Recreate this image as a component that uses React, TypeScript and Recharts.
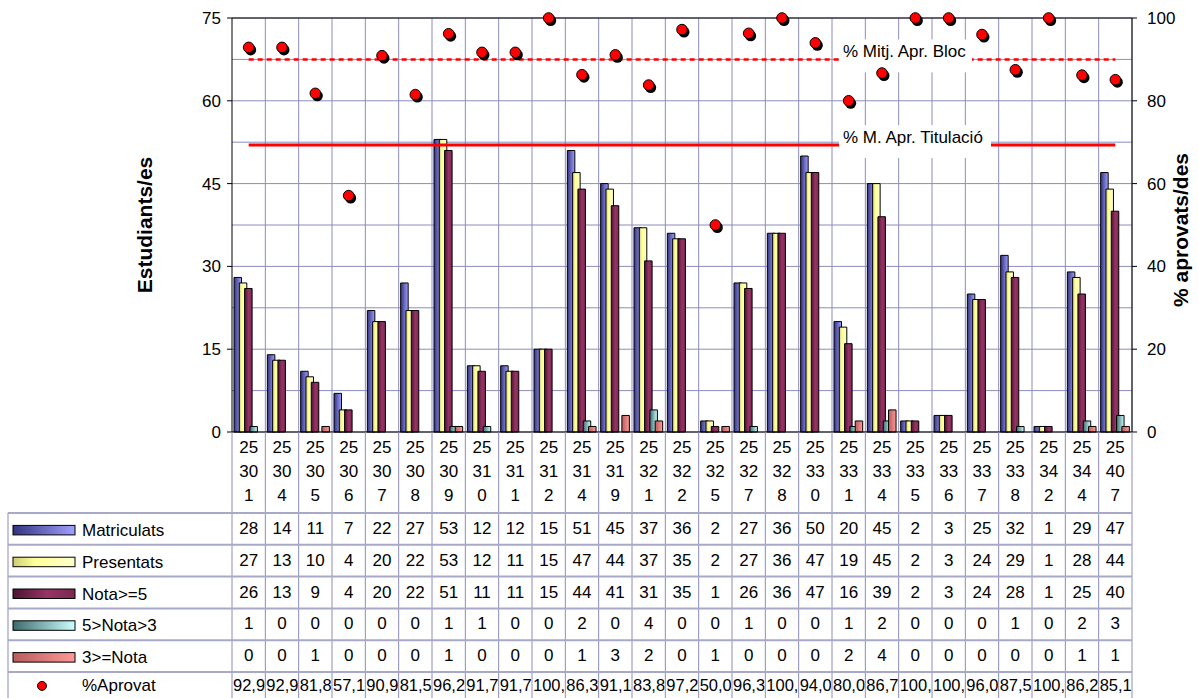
import React from 'react';
import { ComposedChart, Bar, Line, XAxis, YAxis, CartesianGrid, ReferenceLine } from 'recharts';

const categories = [
  '25301', '25304', '25305', '25306', '25307', '25308', '25309', '25310', '25311',
  '25312', '25314', '25319', '25321', '25322', '25325', '25327', '25328', '25330',
  '25331', '25334', '25335', '25336', '25337', '25338', '25342', '25344', '25407',
];
const matriculats = [28, 14, 11, 7, 22, 27, 53, 12, 12, 15, 51, 45, 37, 36, 2, 27, 36, 50, 20, 45, 2, 3, 25, 32, 1, 29, 47];
const presentats = [27, 13, 10, 4, 20, 22, 53, 12, 11, 15, 47, 44, 37, 35, 2, 27, 36, 47, 19, 45, 2, 3, 24, 29, 1, 28, 44];
const aprovats = [26, 13, 9, 4, 20, 22, 51, 11, 11, 15, 44, 41, 31, 35, 1, 26, 36, 47, 16, 39, 2, 3, 24, 28, 1, 25, 40];
const notaMitja = [1, 0, 0, 0, 0, 0, 1, 1, 0, 0, 2, 0, 4, 0, 0, 1, 0, 0, 1, 2, 0, 0, 0, 1, 0, 2, 3];
const notaBaixa = [0, 0, 1, 0, 0, 0, 1, 0, 0, 0, 1, 3, 2, 0, 1, 0, 0, 0, 2, 4, 0, 0, 0, 0, 0, 1, 1];
const pctAprovat = [92.9, 92.9, 81.8, 57.1, 90.9, 81.5, 96.2, 91.7, 91.7, 100, 86.3, 91.1, 83.8, 97.2, 50.0, 96.3, 100, 94.0, 80.0, 86.7, 100, 100, 96.0, 87.5, 100, 86.2, 85.1];

const mitjBloc = 90;
const mitjTitulacio = 69.3;

const leftTicks = [0, 15, 30, 45, 60, 75];
const rightTicks = [0, 20, 40, 60, 80, 100];
const gridLines = [0, 7.5, 15, 22.5, 30, 37.5, 45, 52.5, 60, 67.5, 75];

const seriesNames = ['Matriculats', 'Presentats', 'Nota>=5', '5>Nota>3', '3>=Nota', '%Aprovat'];
const seriesFills = ['url(#gMat)', 'url(#gPres)', 'url(#gNota)', 'url(#gMid)', 'url(#gLow)'];

const data = categories.map((cat, i) => ({
  cat,
  mat: matriculats[i],
  pres: presentats[i],
  ok: aprovats[i],
  mid: notaMitja[i],
  low: notaBaixa[i],
  pct: pctAprovat[i],
}));

// layout
const W = 1198;
const H = 698;
const PLOT_LEFT = 232;
const PLOT_RIGHT = 1132;
const PLOT_TOP = 18;
const PLOT_BOTTOM = 432;
const BAND = (PLOT_RIGHT - PLOT_LEFT) / categories.length;
const ROW_Y0 = 513;
const ROW_H = 31.8;
const LABEL_X = 839;

const FONT = '"Liberation Sans", Arial, sans-serif';
const GRID = '#8C8CBC';
const ROWLINE = '#A8A8C8';

// excel cuts the % cell to what fits in the column
const pctText = (v: number) => v.toFixed(1).replace('.', ',').slice(0, 4);

function TableTick(props: any) {
  const { x, payload } = props;
  const i = categories.indexOf(payload.value);
  if (i < 0) return null;
  const left = x - BAND / 2;
  const code = categories[i];
  const vals = [matriculats[i], presentats[i], aprovats[i], notaMitja[i], notaBaixa[i]];
  const pctY = ROW_Y0 + ROW_H * 5;
  return (
    <g fontFamily={FONT} fontSize={17} fill="#000">
      <line x1={left} x2={left} y1={PLOT_BOTTOM} y2={H} stroke={GRID} />
      {i === categories.length - 1 && (
        <line x1={left + BAND} x2={left + BAND} y1={PLOT_BOTTOM} y2={H} stroke={GRID} />
      )}
      {[code.slice(0, 2), code.slice(2, 4), code.slice(4)].map((s, k) => (
        <text key={k} x={x} y={453 + k * 23.8} textAnchor="middle">{s}</text>
      ))}
      {vals.map((v, r) => (
        <text key={r} x={x} y={ROW_Y0 + ROW_H * r + ROW_H / 2 + 5} textAnchor="middle">{v}</text>
      ))}
      <clipPath id={`pc${i}`}>
        <rect x={left + 0.5} y={pctY} width={BAND - 1} height={ROW_H} />
      </clipPath>
      <text x={left + 1} y={pctY + ROW_H / 2 + 3} fontSize={16.5} clipPath={`url(#pc${i})`}>
        {pctText(pctAprovat[i])}
      </text>
    </g>
  );
}

function renderDot(props: any) {
  const { cx, cy, index } = props;
  if (cx == null || cy == null) return <g key={index} />;
  return (
    <g key={index}>
      <circle cx={cx + 2} cy={cy + 2.5} r={5.5} fill="#000" />
      <circle cx={cx} cy={cy} r={5.3} fill="#FF0000" stroke="#000" strokeWidth={1} />
    </g>
  );
}

const boxLabel = (text: string, w: number) => (props: any) => {
  const vb = props.viewBox || {};
  const y = vb.y ?? 0;
  return (
    <g>
      <rect x={LABEL_X} y={y - 20} width={w} height={33} fill="#fff" />
      <text x={LABEL_X + 4} y={y - 2} fontFamily={FONT} fontSize={17} fill="#000">{text}</text>
    </g>
  );
};

function TableFrame() {
  return (
    <svg
      width={W}
      height={H}
      style={{ position: 'absolute', left: 0, top: 0, pointerEvents: 'none' }}
      fontFamily={FONT}
      fontSize={17}
    >
      <defs>
        <linearGradient id="gMat" x1="0" y1="0" x2="1" y2="0">
          <stop offset="0%" stopColor="#333380" />
          <stop offset="100%" stopColor="#A0A0FF" />
        </linearGradient>
        <linearGradient id="gPres" x1="0" y1="0" x2="1" y2="0">
          <stop offset="0%" stopColor="#CCCC77" />
          <stop offset="35%" stopColor="#FFFF99" />
          <stop offset="100%" stopColor="#FFFFCC" />
        </linearGradient>
        <linearGradient id="gNota" x1="0" y1="0" x2="1" y2="0">
          <stop offset="0%" stopColor="#4A1530" />
          <stop offset="55%" stopColor="#993366" />
          <stop offset="100%" stopColor="#7A2850" />
        </linearGradient>
        <linearGradient id="gMid" x1="0" y1="0" x2="1" y2="0">
          <stop offset="0%" stopColor="#3D6B6B" />
          <stop offset="100%" stopColor="#CCFFFF" />
        </linearGradient>
        <linearGradient id="gLow" x1="0" y1="0" x2="1" y2="0">
          <stop offset="0%" stopColor="#B85C5C" />
          <stop offset="100%" stopColor="#FF9999" />
        </linearGradient>
      </defs>
      <line x1={8} x2={8} y1={ROW_Y0} y2={H} stroke={GRID} />
      {seriesNames.map((_, r) => (
        <line
          key={r}
          x1={8}
          x2={PLOT_RIGHT}
          y1={ROW_Y0 + ROW_H * r}
          y2={ROW_Y0 + ROW_H * r}
          stroke={ROWLINE}
          strokeWidth={2}
        />
      ))}
      {seriesNames.map((name, r) => {
        const cy = ROW_Y0 + ROW_H * r + ROW_H / 2;
        return (
          <g key={name}>
            {r < 5 ? (
              <rect x={13} y={cy - 3.5} width={62} height={9.5} fill={seriesFills[r]} stroke="#000" strokeWidth={1} />
            ) : (
              <circle cx={42} cy={cy - 2} r={4.5} fill="#FF0000" stroke="#000" strokeWidth={1} />
            )}
            <text x={82} y={cy + (r < 5 ? 7 : 3)} fill="#000">{name}</text>
          </g>
        );
      })}
      <text
        transform="translate(152,225) rotate(-90)"
        textAnchor="middle"
        fontWeight="bold"
        fontSize={21}
        fill="#000"
      >
        Estudiants/es
      </text>
      <text
        transform="translate(1188,230) rotate(-90)"
        textAnchor="middle"
        fontWeight="bold"
        fontSize={21}
        fill="#000"
      >
        % aprovats/des
      </text>
    </svg>
  );
}

export default function App() {
  const tickStyle = { fontSize: 17, fill: '#000', fontFamily: FONT };
  return (
    <div style={{ position: 'absolute', left: 0, top: 0, width: W, height: H, background: '#fff' }}>
      <ComposedChart
        width={W}
        height={H}
        data={data}
        margin={{ top: PLOT_TOP, right: W - PLOT_RIGHT - 60, bottom: 0, left: PLOT_LEFT - 60 }}
        barSize={7.5}
        barGap={-2.2}
      >
        <CartesianGrid vertical={false} horizontalValues={gridLines} stroke={GRID} strokeWidth={1} />
        {categories.map((c) => (
          <ReferenceLine key={`v${c}`} x={c} position="start" stroke={GRID} strokeWidth={1} />
        ))}
        <ReferenceLine x={categories[categories.length - 1]} position="end" stroke={GRID} strokeWidth={1} />
        <XAxis
          dataKey="cat"
          interval={0}
          height={H - PLOT_BOTTOM}
          tickLine={false}
          axisLine={{ stroke: '#000' }}
          tick={<TableTick />}
        />
        <YAxis
          domain={[0, 75]}
          ticks={leftTicks}
          width={60}
          tickSize={5}
          tickMargin={6}
          axisLine={{ stroke: '#000' }}
          tickLine={{ stroke: '#000' }}
          tick={tickStyle}
        />
        <YAxis
          yAxisId="right"
          orientation="right"
          domain={[0, 100]}
          ticks={rightTicks}
          width={60}
          tickSize={5}
          tickMargin={10}
          axisLine={{ stroke: '#000' }}
          tickLine={{ stroke: '#000' }}
          tick={tickStyle}
        />
        <ReferenceLine y={75} stroke="#000" strokeWidth={1} />
        <Bar dataKey="mat" fill="url(#gMat)" stroke="#000" strokeWidth={1} isAnimationActive={false} />
        <Bar dataKey="pres" fill="url(#gPres)" stroke="#000" strokeWidth={1} isAnimationActive={false} />
        <Bar dataKey="ok" fill="url(#gNota)" stroke="#000" strokeWidth={1} isAnimationActive={false} />
        <Bar dataKey="mid" fill="url(#gMid)" stroke="#000" strokeWidth={1} isAnimationActive={false} />
        <Bar dataKey="low" fill="url(#gLow)" stroke="#000" strokeWidth={1} isAnimationActive={false} />
        <Line
          yAxisId="right"
          dataKey="pct"
          stroke="none"
          dot={renderDot}
          activeDot={false}
          isAnimationActive={false}
        />
        <ReferenceLine
          yAxisId="right"
          segment={[
            { x: categories[0], y: mitjBloc },
            { x: categories[categories.length - 1], y: mitjBloc },
          ]}
          stroke="#FF0000"
          strokeWidth={2.5}
          strokeDasharray="5 4"
          label={boxLabel('% Mitj. Apr. Bloc', 133)}
        />
        <ReferenceLine
          yAxisId="right"
          segment={[
            { x: categories[0], y: mitjTitulacio },
            { x: categories[categories.length - 1], y: mitjTitulacio },
          ]}
          stroke="#FF0000"
          strokeWidth={3}
          label={boxLabel('% M. Apr. Titulació', 152)}
        />
      </ComposedChart>
      <TableFrame />
    </div>
  );
}
